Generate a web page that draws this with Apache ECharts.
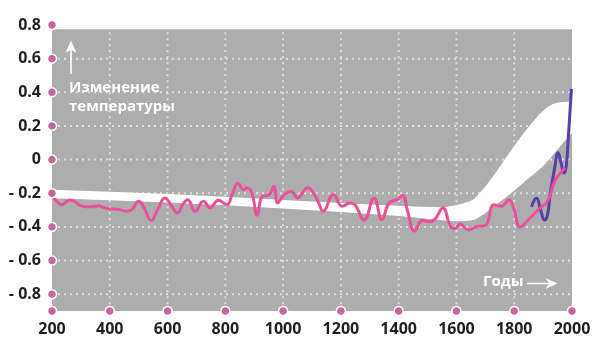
<!DOCTYPE html>
<html><head><meta charset="utf-8">
<script src="https://cdn.jsdelivr.net/npm/echarts@6/dist/echarts.min.js"></script>
<style>html,body{margin:0;padding:0;background:#fff}#c{width:600px;height:349px}</style>
</head><body><div id="c"></div>
<script>
const xTicks = [200,400,600,800,1000,1200,1400,1600,1800,2000];
const xTickLabels = ['200','400','600','800','1000','1200','1400','1600','1800','2000'];
const yTicks = [0.8,0.6,0.4,0.2,0,-0.2,-0.4,-0.6,-0.8];
const yTickLabels = ['0.8','0.6','0.4','0.2','0','- 0.2','- 0.4','- 0.6','- 0.8'];
const xGridLines = [400,600,800,1000,1200,1400,1600,1800];
const yGridLines = [0.6,0.4,0.2,0,-0.2,-0.4,-0.6,-0.8];
const xMin = 200, xMax = 2000, yMin = -0.9, yMax = 0.8, plotTop = 0.775;

const proxyYears = [200,215,233,262,280,300,320,343,360,380,400,430,458,475,500,520,543,565,591,612,634,655,670,695,724,747,776,805,825,844,862,875,892,910,928,949,968,981,1001,1028,1050,1085,1100,1120,1139,1174,1205,1232,1250,1280,1315,1342,1367,1395,1414,1430,1455,1483,1505,1525,1553,1580,1595,1612,1641,1672,1700,1730,1755,1782,1800,1820,1855,1889,1915,1941,1965,1976];
const proxyValues = [-0.22,-0.245,-0.268,-0.24,-0.25,-0.275,-0.28,-0.28,-0.275,-0.285,-0.293,-0.295,-0.307,-0.3,-0.248,-0.29,-0.362,-0.3,-0.228,-0.27,-0.317,-0.26,-0.238,-0.307,-0.248,-0.288,-0.242,-0.268,-0.2,-0.14,-0.178,-0.168,-0.2,-0.33,-0.218,-0.212,-0.16,-0.258,-0.214,-0.188,-0.228,-0.168,-0.185,-0.245,-0.307,-0.208,-0.278,-0.258,-0.27,-0.36,-0.228,-0.357,-0.258,-0.238,-0.214,-0.3,-0.425,-0.36,-0.37,-0.355,-0.288,-0.4,-0.41,-0.383,-0.418,-0.397,-0.392,-0.268,-0.278,-0.238,-0.3,-0.4,-0.347,-0.288,-0.25,-0.125,-0.07,-0.05];

const instrYears = [1860,1870,1878,1890,1905,1915,1925,1940,1952,1962,1972,1980,1988,1998];
const instrValues = [-0.28,-0.24,-0.23,-0.29,-0.36,-0.33,-0.2,-0.05,0.04,-0.02,-0.08,-0.04,0.15,0.42];

const bandYears = [200,600,1000,1400,1550,1600,1655,1690,1720,1775,1830,1880,1910,1940,1970,2000];
const bandUpper = [-0.18,-0.205,-0.24,-0.275,-0.283,-0.27,-0.24,-0.18,-0.115,0.02,0.15,0.255,0.305,0.333,0.342,0.345];
const bandLower = [-0.23,-0.255,-0.29,-0.335,-0.36,-0.366,-0.36,-0.33,-0.29,-0.22,-0.14,-0.07,-0.02,0.04,0.1,0.16];

const FONT = '"Open Sans", "Noto Sans", sans-serif';
const chart = echarts.init(document.getElementById('c'), null, {renderer:'canvas'});

// monotone cubic path commands through pixel points
function tangents(p){
  const n=p.length, d=[], m=[];
  for(let i=0;i<n-1;i++) d.push((p[i+1][1]-p[i][1])/(p[i+1][0]-p[i][0]));
  for(let i=0;i<n;i++){
    if(i===0) m.push(d[0]);
    else if(i===n-1) m.push(d[n-2]);
    else {
      const h0=p[i][0]-p[i-1][0], h1=p[i+1][0]-p[i][0];
      if(d[i-1]*d[i]<=0) m.push(0);
      else m.push(3*(h0+h1)/((2*h0+h1)/d[i-1]+(h0+2*h1)/d[i]));
    }
  }
  return m;
}
function curveCmds(p){
  const m=tangents(p); let s='';
  for(let i=0;i<p.length-1;i++){
    const h=p[i+1][0]-p[i][0];
    s+=' C'+(p[i][0]+h/3)+','+(p[i][1]+m[i]*h/3)+' '+(p[i+1][0]-h/3)+','+(p[i+1][1]-m[i+1]*h/3)+' '+p[i+1][0]+','+p[i+1][1];
  }
  return s;
}

const gridStroke = 'rgba(228,228,228,0.95)';

chart.setOption({
  animation:false,
  grid:{left:52, right:28, top:25, bottom:38},
  xAxis:{type:'value', min:xMin, max:xMax, interval:200,
    axisLine:{show:false}, axisTick:{show:false}, splitLine:{show:false},
    axisLabel:{margin:10, fontSize:16, fontWeight:'bold', color:'#231f20', fontFamily:FONT,
      formatter:function(v){
        for (let i=0;i<xTicks.length;i++){ if (Math.abs(xTicks[i]-v)<1e-6) return xTickLabels[i]; }
        return '';
      }}},
  yAxis:{type:'value', min:yMin, max:yMax, interval:0.1,
    axisLine:{show:false}, axisTick:{show:false}, splitLine:{show:false},
    axisLabel:{margin:11, fontSize:16, fontWeight:'bold', color:'#231f20', fontFamily:FONT,
      formatter:function(v){
        for (let i=0;i<yTicks.length;i++){ if (Math.abs(yTicks[i]-v)<1e-6) return yTickLabels[i]; }
        return '';
      }}},
  series:[
    {type:'custom', name:'bg', silent:true, z:1, data:[[xMin, plotTop, xMax, yMin]],
      renderItem:function(params, api){
        const a = api.coord([api.value(0), api.value(1)]);
        const b = api.coord([api.value(2), api.value(3)]);
        return {type:'rect', shape:{x:a[0], y:a[1], width:b[0]-a[0], height:b[1]-a[1]}, style:{fill:'#adadad'}};
      }},
    {type:'custom', name:'hgrid', silent:true, z:2, data: yGridLines.map(v=>[xMin, v]),
      renderItem:function(params, api){
        const a = api.coord([xMin, api.value(1)]);
        const b = api.coord([xMax, api.value(1)]);
        return {type:'line', shape:{x1:a[0], y1:a[1], x2:b[0], y2:b[1]}, style:{stroke:gridStroke, lineWidth:2, lineDash:[2,4]}};
      }},
    {type:'custom', name:'vgrid', silent:true, z:2, data: xGridLines.map(v=>[v, yMin]),
      renderItem:function(params, api){
        const a = api.coord([api.value(0), plotTop]);
        const b = api.coord([api.value(0), yMin]);
        return {type:'line', shape:{x1:a[0], y1:a[1]+3, x2:b[0], y2:b[1]}, style:{stroke:gridStroke, lineWidth:2, lineDash:[2,4]}};
      }},
    {type:'custom', name:'band', silent:true, z:3, clip:true, data:[[bandYears[0], bandUpper[0]]],
      renderItem:function(params, api){
        const up = bandYears.map((y,i)=>api.coord([y, bandUpper[i]]));
        const lo = bandYears.map((y,i)=>api.coord([y, bandLower[i]])).reverse();
        const d = 'M'+up[0][0]+','+up[0][1]+curveCmds(up)+' L'+lo[0][0]+','+lo[0][1]+curveCmds(lo)+' Z';
        return {type:'path', shape:{pathData:d}, style:{fill:'#ffffff'}};
      }},
    {type:'line', name:'instrumental', smooth:0.45, data: instrYears.map((y,i)=>[y,instrValues[i]]),
      symbol:'none', lineStyle:{width:3, color:'#5a3ea6'}, z:4},
    {type:'line', name:'proxy', smooth:0.45, data: proxyYears.map((y,i)=>[y,proxyValues[i]]),
      symbol:'none', lineStyle:{width:3, color:'#ea4f9b'}, z:5},
    {type:'scatter', name:'dots', clip:false, symbolSize:9, z:6,
      itemStyle:{color:'#c4679c', borderColor:'#ffffff', borderWidth:1.5, opacity:1},
      data: yTicks.map(v=>[xMin,v]).concat(xTicks.map(x=>[x,yMin]))}
  ],
  graphic:[
    {type:'text', x:69, y:78, z:10, style:{text:'Изменение\nтемпературы', fill:'#ffffff', font:'bold 15px '+FONT, lineHeight:19}},
    {type:'line', z:10, shape:{x1:71, y1:74, x2:71, y2:46}, style:{stroke:'#ffffff', lineWidth:1.6}},
    {type:'polygon', z:10, shape:{points:[[65.5,53],[71,40.5],[76.5,53],[71,49.5]]}, style:{fill:'#ffffff'}},
    {type:'text', x:483, y:274, z:10, style:{text:'Годы', fill:'#ffffff', font:'bold 15px '+FONT}},
    {type:'line', z:10, shape:{x1:527, y1:283.5, x2:553, y2:283.5}, style:{stroke:'#ffffff', lineWidth:1.6}},
    {type:'polygon', z:10, shape:{points:[[545.5,278],[557.5,283.5],[545.5,289],[549,283.5]]}, style:{fill:'#ffffff'}}
  ]
});
</script>
</body></html>
